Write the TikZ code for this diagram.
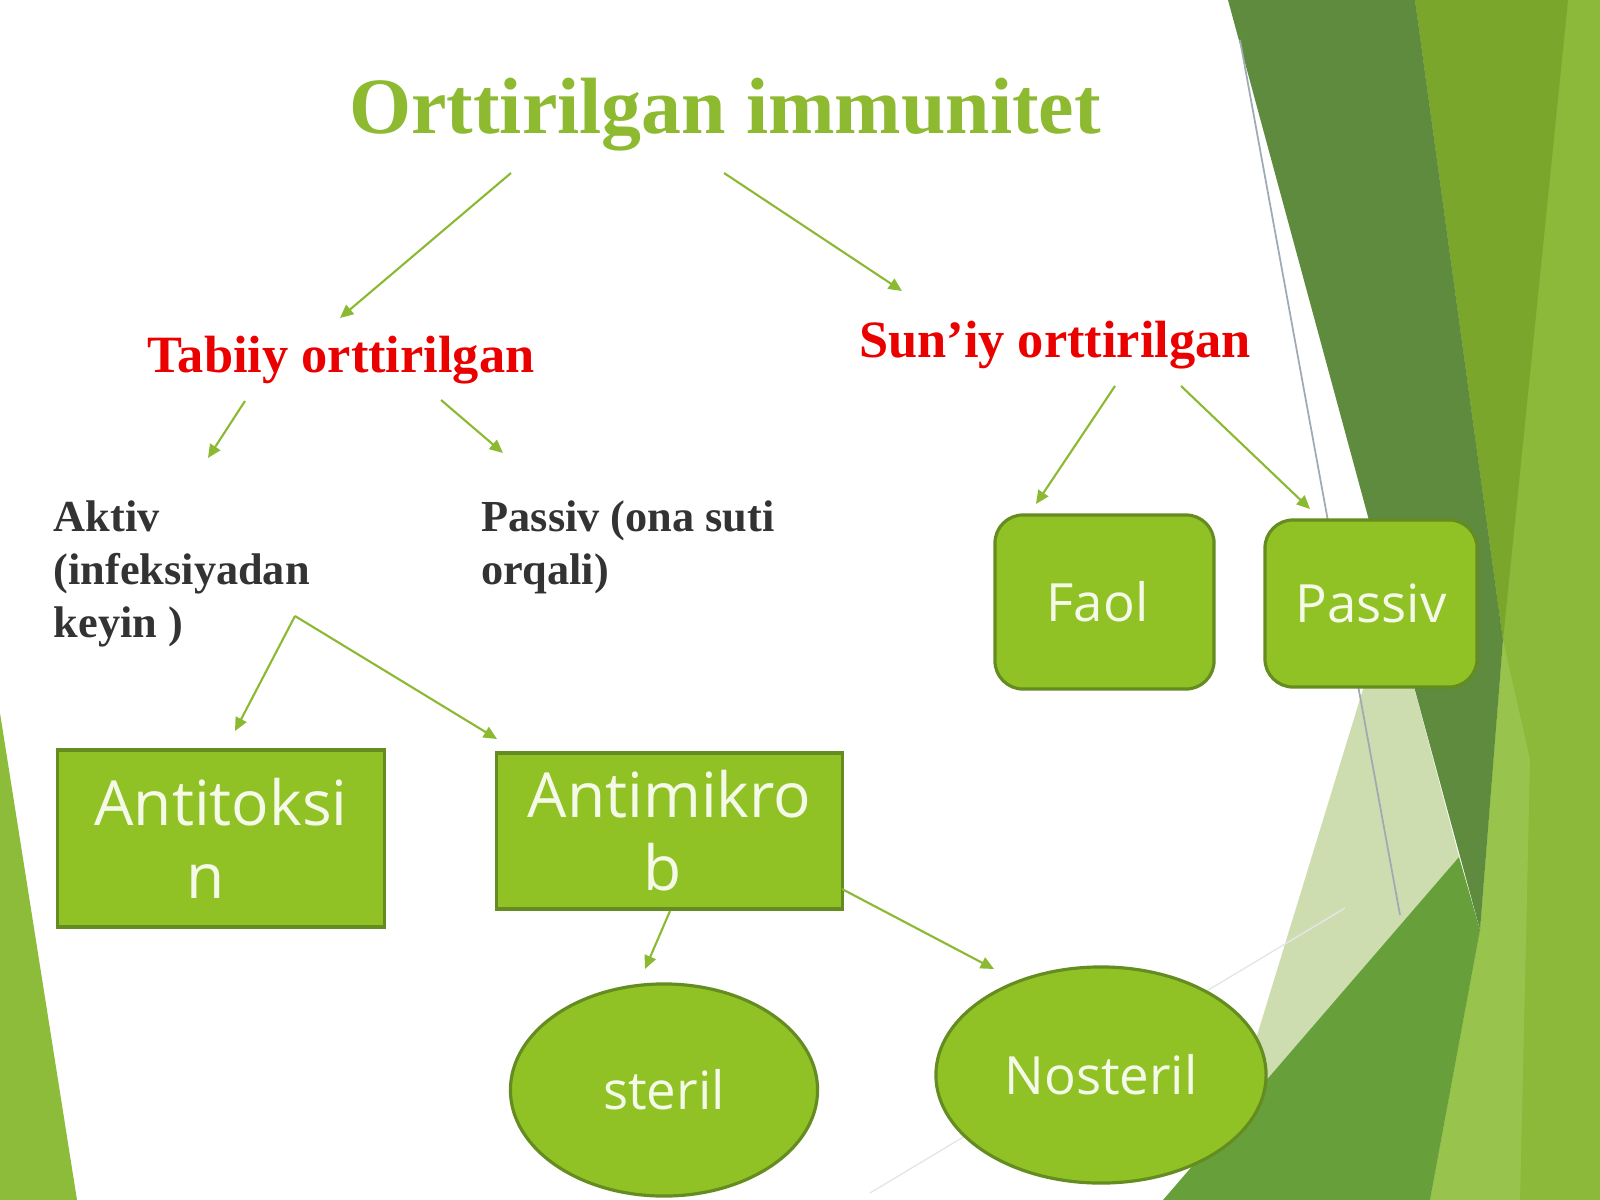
\documentclass[tikz,border=0pt]{standalone}
\usepackage{fontspec}
\setmainfont{Liberation Serif}
\newfontfamily\boxfont{Open Sans}
\usetikzlibrary{arrows.meta,shapes.geometric}
\definecolor{accent}{RGB}{144,194,38}
\definecolor{boxborder}{RGB}{100,140,32}
\definecolor{boxtext}{RGB}{245,250,232}
\definecolor{titlegreen}{RGB}{141,186,48}
\definecolor{arrowgreen}{RGB}{140,185,50}
\definecolor{redtext}{RGB}{235,0,0}
\definecolor{darktext}{RGB}{51,51,51}
\definecolor{bgdark}{RGB}{94,139,62}
\definecolor{bgmed}{RGB}{122,166,44}
\definecolor{bglight}{RGB}{140,185,58}
\definecolor{bgbottom}{RGB}{103,160,59}
\definecolor{bgpale}{RGB}{206,221,176}
\definecolor{bgstrip}{RGB}{152,196,78}
\definecolor{leftgreen}{RGB}{141,187,58}
\definecolor{thinline}{RGB}{160,170,180}
\definecolor{faintline}{RGB}{226,231,236}
\begin{document}
\begin{tikzpicture}[x=0.01cm,y=-0.01cm,
  arr/.style={draw=arrowgreen, line width=0.6pt, -{Triangle[length=3.8pt,width=3.4pt]}},
  titletext/.style={inner sep=0pt, anchor=base, text=titlegreen, font=\bfseries\fontsize{22.7}{27}\selectfont},
  redlabel/.style={inner sep=0pt, anchor=base, text=redtext, font=\bfseries\fontsize{14.9}{18}\selectfont},
  darklabel/.style={inner sep=0pt, anchor=base west, text=darktext, font=\bfseries\fontsize{12.6}{15}\selectfont},
  greenbox/.style={draw=boxborder, line width=0.9pt, fill=accent, text=boxtext, align=center, inner sep=0pt,
    font=\boxfont\fontsize{17.7}{20.8}\selectfont},
  roundbox/.style={greenbox, rounded corners=8pt, font=\boxfont\fontsize{15}{18}\selectfont},
  ellbox/.style={greenbox, ellipse, font=\boxfont\fontsize{15}{18}\selectfont}]
% canvas
\useasboundingbox (0,0) rectangle (1600,1200);
\fill[white] (0,0) rectangle (1600,1200);
% background facets (right side)
\fill[bglight] (1415,0) -- (1600,0) -- (1600,1200) -- (1430,1200) -- (1480,930) -- (1503,640) -- cycle;
\fill[bgmed] (1415,0) -- (1568,0) -- (1503,640) -- cycle;
\fill[bgstrip] (1503,640) -- (1530,760) -- (1520,1200) -- (1430,1200) -- (1480,930) -- cycle;
\fill[bgpale] (1375,650) -- (1404,650) -- (1459,857) -- (1229,1127) -- cycle;
\fill[bgdark] (1228,0) -- (1415,0) -- (1503,640) -- (1480,930) -- cycle;
\fill[bgbottom] (1163,1200) -- (1459,857) -- (1480,930) -- (1430,1200) -- cycle;
\draw[thinline, line width=0.5pt] (1240,40) -- (1400,915);
\draw[faintline, line width=0.4pt] (870,1193) -- (1345,908);
% background facet (left side)
\fill[leftgreen] (0,713) -- (77,1200) -- (0,1200) -- cycle;
% texts
\node[titletext] (title) at (725,133) {Orttirilgan immunitet};
\node[redlabel] (tabiiy) at (341,372) {Tabiiy orttirilgan};
\node[redlabel] (suniy) at (1055,357) {Sun’iy orttirilgan};
\node[darklabel] (aktiv1) at (53,531) {Aktiv};
\node[darklabel] (aktiv2) at (53,584) {(infeksiyadan};
\node[darklabel] (aktiv3) at (53,637) {keyin )};
\node[darklabel] (passiv1) at (481,531) {Passiv (ona suti};
\node[darklabel] (passiv2) at (481,584) {orqali)};
% boxes
\node[greenbox, minimum width=3.26cm, minimum height=1.77cm] (antitoksin) at (221,838.5) {Antitoksi\\n\hspace*{9pt}};
\node[greenbox, minimum width=3.45cm, minimum height=1.56cm] (antimikrob) at (669.5,831) {Antimikro\\b\hspace*{4pt}};
\node[roundbox, minimum width=2.19cm, minimum height=1.74cm] (faol) at (1104.5,602) {Faol\hspace*{4pt}};
\node[roundbox, minimum width=2.12cm, minimum height=1.67cm] (passivbox) at (1371,603.5) {Passiv};
\node[ellbox, minimum width=3.07cm, minimum height=2.12cm] (steril) at (664,1090) {steril};
\node[ellbox, minimum width=3.30cm, minimum height=2.16cm] (nosteril) at (1101,1075) {Nosteril};
% connector ends
\coordinate (title-l) at (511,173);
\coordinate (title-r) at (724,173);
\coordinate (tabiiy-in) at (340,318);
\coordinate (suniy-in) at (902,291);
\coordinate (tabiiy-l) at (245,401);
\coordinate (tabiiy-r) at (441,400);
\coordinate (aktiv-in) at (208,458);
\coordinate (passiv-in) at (503,453);
\coordinate (suniy-l) at (1115,386);
\coordinate (suniy-r) at (1181,386);
\coordinate (faol-in) at (1036,504);
\coordinate (passivbox-in) at (1310,509);
\coordinate (aktiv-out) at (295,616);
\coordinate (antitoksin-in) at (235,731);
\coordinate (antimikrob-in) at (497,739);
\coordinate (antimikrob-b) at (670,911);
\coordinate (antimikrob-r) at (842,889);
\coordinate (steril-in) at (645,969);
\coordinate (nosteril-in) at (994,969);
% connectors
\draw[arr] (title-l) -- (tabiiy-in);
\draw[arr] (title-r) -- (suniy-in);
\draw[arr] (tabiiy-l) -- (aktiv-in);
\draw[arr] (tabiiy-r) -- (passiv-in);
\draw[arr] (suniy-l) -- (faol-in);
\draw[arr] (suniy-r) -- (passivbox-in);
\draw[arr] (aktiv-out) -- (antitoksin-in);
\draw[arr] (aktiv-out) -- (antimikrob-in);
\draw[arr] (antimikrob-b) -- (steril-in);
\draw[arr] (antimikrob-r) -- (nosteril-in);
\end{tikzpicture}
\end{document}
